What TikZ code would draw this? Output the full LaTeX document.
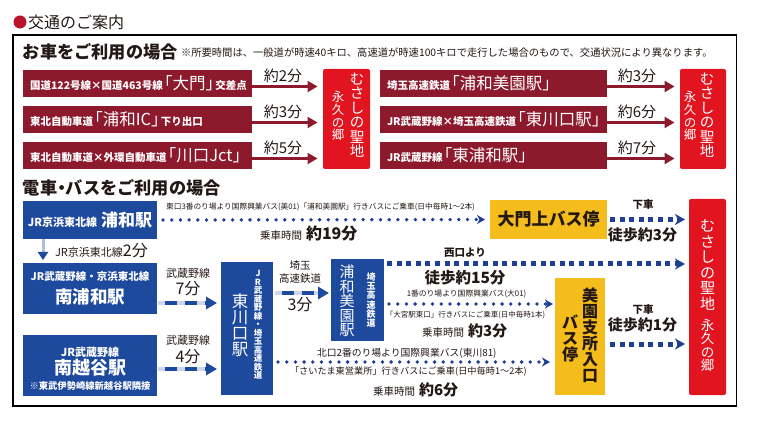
\documentclass[tikz,border=0pt]{standalone}
\usepackage{fontspec}
\setmainfont{Noto Sans CJK JP}
\newfontfamily\halffont[RawFeature=+halt]{Noto Sans CJK JP}
\usetikzlibrary{arrows.meta, positioning, calc}

\definecolor{barred}{HTML}{8C1A2C}
\definecolor{goalred}{HTML}{E1141F}
\definecolor{dotred}{HTML}{B8152B}
\definecolor{boxblue}{HTML}{1D4A9C}
\definecolor{lineblue}{HTML}{1E3F93}
\definecolor{busyellow}{HTML}{F4BD1B}
\definecolor{ink}{HTML}{231815}

\newcommand{\jsize}[2]{{\fontsize{#1}{#1}\selectfont#2}}
\newcommand{\barsm}[1]{\jsize{10.5}{\bfseries #1}}
\newcommand{\barlg}[1]{\jsize{16.5}{#1}}
\newcommand{\lbr}{\kern1.5pt{\halffont 「}}
\newcommand{\rbr}{{\halffont 」}\kern1.5pt}
\newcommand{\tightls}{\lineskiplimit=-20pt\relax}

\tikzset{
  head/.style={anchor=west, text=ink, font=\fontsize{17.2}{17.2}\selectfont\bfseries},
  carbar/.style={fill=barred, text=white, minimum height=27pt, text width=215pt, inner xsep=7pt, align=left, anchor=north west},
  goalbox/.style={fill=goalred, rounded corners=2pt, anchor=north west},
  goaltxt/.style={text=white, align=center},
  stabox/.style={fill=boxblue, text=white, align=center, anchor=north west},
  busstop/.style={fill=busyellow, text=ink, align=center, anchor=north west},
  vcol/.style={align=center},
  timelbl/.style={text=ink, font=\fontsize{15}{15}\selectfont},
  note/.style={text=ink},
  walklbl/.style={text=ink, font=\fontsize{15}{15}\selectfont\bfseries},
  getoff/.style={text=ink, font=\fontsize{10.5}{10.5}\selectfont\bfseries},
  cararrow/.style={draw=barred, line width=2.6pt, -{Triangle[length=10pt,width=11pt]}},
  busline/.style={draw=lineblue, line width=3.8pt, line cap=round, dash pattern=on 0pt off 8.7pt, -{Stealth[length=8pt,width=9pt,inset=2.5pt]}},
  walkline/.style={draw=lineblue, line width=5pt, dash pattern=on 5pt off 4.6pt, -{Stealth[length=10pt,width=11pt,inset=3pt]}},
  jrline/.style={draw=boxblue, line width=4.5pt, dash pattern=on 12pt off 8pt, dash phase=13pt, preaction={draw=boxblue!22, line width=4.5pt, solid}, -{Triangle[length=11pt,width=12pt]}},
}

\begin{document}
\begin{tikzpicture}[x=1pt, y=-1pt, every node/.style={inner sep=0pt, outer sep=0pt}]
  \useasboundingbox (0,0) rectangle (757,427);

  % title and frame
  \node[circle, fill=dotred, minimum size=13pt] (bullet) at (20,22) {};
  \node[anchor=west, text=ink, font=\fontsize{16}{16}\selectfont] (title) at (28,22) {交通のご案内};
  \draw[line width=1.3pt] (13,35) rectangle (736.5,406);

  % by car
  \node[head] (hcar) at (23,52) {お車をご利用の場合};
  \node[note, anchor=west, font=\fontsize{10.3}{10.3}\selectfont] (ncar) at (181,53) {※所要時間は、一般道が時速40キロ、高速道が時速100キロで走行した場合のもので、交通状況により異なります。};

  \node[carbar] (c1) at (23,70) {\barsm{国道122号線×国道463号線}\barlg{\lbr 大門\rbr}\barsm{交差点}};
  \node[carbar, below=9pt of c1] (c2) {\barsm{東北自動車道}\barlg{\lbr 浦和IC\rbr}\barsm{下り出口}};
  \node[carbar, below=9pt of c2] (c3) {\barsm{東北自動車道×外環自動車道}\barlg{\lbr 川口Jct\rbr}};
  \node[carbar, text width=213pt] (r1) at (380,70) {\barsm{埼玉高速鉄道}\barlg{\lbr 浦和美園駅\rbr}};
  \node[carbar, text width=213pt, below=9pt of r1] (r2) {\barsm{JR武蔵野線×埼玉高速鉄道}\barlg{\lbr 東川口駅\rbr}};
  \node[carbar, text width=213pt, below=9pt of r2] (r3) {\barsm{JR武蔵野線}\barlg{\lbr 東浦和駅\rbr}};

  \node[goalbox, minimum width=47pt, minimum height=100pt] (m1) at (323,69) {};
  \node[goaltxt, anchor=north, font={\fontsize{14.5}{14.4}\selectfont\tightls}] (m1r) at (357,73) {む\\さ\\し\\の\\聖\\地};
  \node[goaltxt, anchor=north, font={\fontsize{12.5}{12.8}\selectfont\tightls}] (m1l) at (338,91) {永\\久\\の\\郷};
  \node[goalbox, minimum width=46pt, minimum height=100pt] (m2) at (680,69) {};
  \node[goaltxt, anchor=north, font={\fontsize{14.5}{14.4}\selectfont\tightls}] (m2r) at (707,73) {む\\さ\\し\\の\\聖\\地};
  \node[goaltxt, anchor=north, font={\fontsize{12.5}{12.8}\selectfont\tightls}] (m2l) at (690,91) {永\\久\\の\\郷};

  \foreach \b/\g in {c1/m1, c2/m1, c3/m1, r1/m2, r2/m2, r3/m2}
    \draw[cararrow, shorten >=5.5pt] ([yshift=-3pt]\b.east) -- ([yshift=-3pt]\b.east -| \g.west);
  \node[timelbl] (t1) at (283,76) {約2分};
  \node[timelbl] (t2) at (283,112) {約3分};
  \node[timelbl] (t3) at (283,148) {約5分};
  \node[timelbl] (t4) at (637,76) {約3分};
  \node[timelbl] (t5) at (637,112) {約6分};
  \node[timelbl] (t6) at (637,148) {約7分};

  % by train and bus
  \node[head] (htrain) at (23,188) {電車{\halffont ・}バスをご利用の場合};

  \node[stabox, minimum width=134pt, minimum height=38pt] (u1) at (23,201) {\jsize{11}{\bfseries JR京浜東北線}\hspace{4pt}\jsize{17}{\bfseries 浦和駅}};
  \node[stabox, minimum width=134pt, minimum height=51pt, font={\fontsize{10}{23}\selectfont}] (u2) at (23,263) {\jsize{10.5}{\bfseries JR武蔵野線・京浜東北線}\\\jsize{17.5}{\bfseries 南浦和駅}};
  \node[stabox, minimum width=134pt, minimum height=61pt, font={\fontsize{10}{15}\selectfont}] (u3) at (23,335) {\rule{0pt}{15.7pt}\jsize{11}{\bfseries JR武蔵野線}\\\jsize{18}{\bfseries 南越谷駅}\\\jsize{9.3}{\bfseries ※東武伊勢崎線新越谷駅隣接}};

  \node[stabox, minimum width=52pt, minimum height=133pt] (hk) at (221,262) {};
  \node[vcol, text=white, font={\fontsize{16.5}{16}\selectfont\tightls}] (hkbig) at (240,325.5) {東\\川\\口\\駅};
  \node[vcol, text=white, font={\fontsize{8.5}{8.5}\selectfont\bfseries\tightls}] (hksm) at (258,325) {J\\R\\武\\蔵\\野\\線\\・\\埼\\玉\\高\\速\\鉄\\道};

  \node[stabox, minimum width=53pt, minimum height=82pt] (um) at (331,259) {};
  \node[vcol, text=white, font={\fontsize{15}{14.4}\selectfont\tightls}] (umbig) at (347,301) {浦\\和\\美\\園\\駅};
  \node[vcol, text=white, font={\fontsize{9}{9.3}\selectfont\bfseries\tightls}] (umsm) at (371,300) {埼\\玉\\高\\速\\鉄\\道};

  \node[busstop, minimum width=117pt, minimum height=39pt, font={\fontsize{17}{17}\selectfont\bfseries}] (dm) at (490,200) {大門上バス停};
  \node[busstop, minimum width=50pt, minimum height=117pt] (bs) at (555,278) {};
  \node[vcol, text=ink, font={\fontsize{16}{16}\selectfont\bfseries\tightls}] (bsr) at (590,335) {美\\園\\支\\所\\入\\口};
  \node[vcol, text=ink, font={\fontsize{16}{16}\selectfont\bfseries\tightls}] (bsl) at (570,338) {バ\\ス\\停};

  \node[goalbox, minimum width=37pt, minimum height=196pt] (g) at (689,199) {};
  \node[goaltxt, anchor=north, font={\fontsize{15}{15.5}\selectfont\tightls}] (g1) at (707.5,220) {む\\さ\\し\\の\\聖\\地};
  \node[goaltxt, anchor=north, font={\fontsize{13.5}{13.5}\selectfont\tightls}] (g2) at (707.5,319) {永\\久\\の\\郷};

  % JR and saitama railway
  \draw[draw=boxblue!35, line width=3pt, -{Triangle[length=8pt,width=10pt,color=boxblue]}, shorten >=3pt] ([xshift=-47pt]u1.south) -- ([xshift=-47pt]u2.north);
  \node[note, anchor=west] (lk) at (55,251) {\jsize{11}{JR京浜東北線}\jsize{16}{2分}};
  \draw[jrline, shorten <=1pt, shorten >=4pt] ([yshift=-14.5pt]u2.east) -- ([yshift=-14.5pt]u2.east -| hk.west);
  \draw[jrline, shorten <=1pt, shorten >=4pt] ([yshift=-3.5pt]u3.east) -- ([yshift=-3.5pt]u3.east -| hk.west);
  \draw[jrline, shorten <=2pt, shorten >=2pt] ([yshift=-31pt]hk.north east) -- ([yshift=-31pt]hk.north east -| um.west);
  \node[note, font={\fontsize{11}{11}\selectfont}] (ms1) at (188,273) {武蔵野線};
  \node[note, font={\fontsize{16}{16}\selectfont}] (ms1t) at (188,289) {7分};
  \node[note, font={\fontsize{11}{11}\selectfont}] (ms2) at (188,340) {武蔵野線};
  \node[note, font={\fontsize{16}{16}\selectfont}] (ms2t) at (188,357) {4分};
  \node[note, font={\fontsize{10.5}{13.5}\selectfont}, align=center] (sr) at (300,272) {埼玉\\高速鉄道};
  \node[note, font={\fontsize{16}{16}\selectfont}] (srt) at (300,305) {3分};

  % buses
  \draw[busline, shorten <=6pt, shorten >=5pt] (u1.east) -- (dm.west);
  \node[note, font={\fontsize{7.7}{7.7}\selectfont}] (bi1) at (320.5,207) {東口3番のり場より国際興業バス(美01)「浦和美園駅」行きバスにご乗車(日中毎時1～2本)};
  \node[note, anchor=west] (ti1) at (260,233) {\jsize{10.5}{乗車時間}\hspace{4pt}\jsize{16}{\bfseries 約19分}};

  \draw[busline, shorten <=5pt, shorten >=2pt] ([yshift=-4pt]um.east) -- ([yshift=-4pt]um.east -| bs.west);
  \node[note, font={\fontsize{7.8}{7.8}\selectfont}] (bi2) at (466.5,294) {1番のり場より国際興業バス(大01)};
  \node[note, font={\fontsize{7.5}{7.5}\selectfont}] (bi3) at (465.5,315) {「大宮駅東口」行きバスにご乗車(日中毎時1本)};
  \node[note, anchor=west] (ti2) at (422,331) {\jsize{10.5}{乗車時間}\hspace{4pt}\jsize{15}{\bfseries 約3分}};

  \draw[busline, shorten <=5pt, shorten >=5pt] ([yshift=-33.5pt]hk.east) -- ([yshift=-33.5pt]hk.east -| bs.west);
  \node[note, anchor=west, font={\fontsize{9.8}{9.8}\selectfont}] (bi4) at (317,353) {北口2番のり場より国際興業バス(東川81)};
  \node[note, anchor=west, font={\fontsize{9.2}{9.2}\selectfont}] (bi5) at (290,372) {「さいたま東営業所」行きバスにご乗車(日中毎時1～2本)};
  \node[note, anchor=west] (ti3) at (373,390) {\jsize{10.5}{乗車時間}\hspace{4pt}\jsize{15}{\bfseries 約6分}};

  % on foot
  \draw[walkline, shorten <=3pt, shorten >=4pt] (dm.east) -- (dm.east -| g.west);
  \node[getoff] (off1) at (643,205) {下車};
  \node[walklbl] (w1) at (642.5,235) {徒歩約3分};
  \draw[walkline, shorten <=3pt, shorten >=4pt] ([yshift=-5pt]um.north east) -- ([yshift=-5pt]um.north east -| g.west);
  \node[getoff] (off2) at (465,253) {西口より};
  \node[walklbl, font={\fontsize{15.5}{15.5}\selectfont\bfseries}] (w2) at (465,278) {徒歩約15分};
  \draw[walkline, shorten <=5pt, shorten >=4pt] ([yshift=-7.5pt]bs.east) -- ([yshift=-7.5pt]bs.east -| g.west);
  \node[getoff] (off3) at (643,310) {下車};
  \node[walklbl] (w3) at (642.5,325) {徒歩約1分};
\end{tikzpicture}
\end{document}
